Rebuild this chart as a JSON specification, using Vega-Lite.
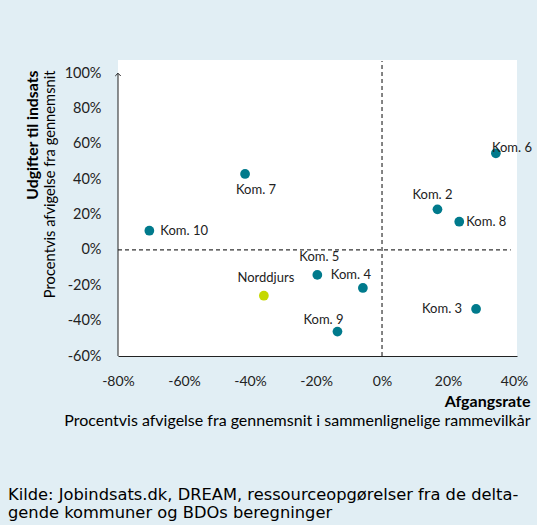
{
  "$schema": "https://vega.github.io/schema/vega-lite/v6.json",
  "width": 399,
  "height": 296,
  "autosize": {"type": "none"},
  "padding": {"left": 118, "top": 60, "right": 20, "bottom": 169},
  "background": "#e1eef4",
  "config": {
    "view": {"fill": "white", "stroke": null},
    "text": {"font": "Lato", "fontSize": 13, "color": "#222"},
    "axis": {"labelFont": "Lato", "labelFontSize": 14, "labelColor": "#222", "titleFont": "Lato", "titleColor": "#000", "grid": false, "ticks": false, "tickSize": 0, "labelOverlap": false, "labelFlush": false, "labelBound": false}
  },
  "title": {
    "text": ["Kilde: Jobindsats.dk, DREAM, ressourceopgørelser fra de delta-", "gende kommuner og BDOs beregninger"],
    "orient": "bottom",
    "anchor": "start",
    "frame": "group",
    "font": "DejaVu Sans",
    "fontSize": 16.3,
    "fontWeight": "normal",
    "color": "#000",
    "lineHeight": 18,
    "offset": 59,
    "dx": -110
  },
  "datasets": {
    "punkter": [
      {"kommune": "Kom. 7", "afgang": -0.415, "udgift": 0.43},
      {"kommune": "Kom. 10", "afgang": -0.705, "udgift": 0.109},
      {"kommune": "Kom. 5", "afgang": -0.196, "udgift": -0.141},
      {"kommune": "Kom. 4", "afgang": -0.058, "udgift": -0.215},
      {"kommune": "Norddjurs", "afgang": -0.358, "udgift": -0.259},
      {"kommune": "Kom. 9", "afgang": -0.135, "udgift": -0.462},
      {"kommune": "Kom. 6", "afgang": 0.345, "udgift": 0.547},
      {"kommune": "Kom. 2", "afgang": 0.168, "udgift": 0.23},
      {"kommune": "Kom. 8", "afgang": 0.234, "udgift": 0.16},
      {"kommune": "Kom. 3", "afgang": 0.285, "udgift": -0.334}
    ],
    "tom": [{}]
  },
  "resolve": {"axis": {"x": "independent", "y": "independent"}},
  "layer": [
    {
      "data": {"name": "tom"},
      "mark": {"type": "rule", "strokeDash": [4, 3], "color": "#333", "strokeWidth": 1.2},
      "encoding": {
        "y": {"datum": 0, "type": "quantitative", "axis": null},
        "x": {"datum": -0.8, "type": "quantitative", "axis": null},
        "x2": {"datum": 0.39}
      }
    },
    {
      "data": {"name": "tom"},
      "mark": {"type": "rule", "strokeDash": [4, 3], "color": "#333", "strokeWidth": 1.2},
      "encoding": {
        "x": {"datum": 0, "type": "quantitative", "axis": null},
        "y": {"datum": -0.6, "type": "quantitative", "axis": null},
        "y2": {"datum": 1.07}
      }
    },
    {
      "data": {"name": "tom"},
      "mark": {"type": "rule", "color": "#222", "strokeWidth": 1},
      "encoding": {
        "x": {"datum": -0.8, "type": "quantitative", "axis": {"orient": "bottom", "labels": false, "domain": false, "title": "Procentvis afvigelse fra gennemsnit i sammenlignelige rammevilkår", "titleFontSize": 16, "titleFontWeight": "normal", "titleX": 412, "titleY": 64, "titleAlign": "right", "titleBaseline": "middle", "titleAngle": 0}},
        "y": {"datum": -0.6, "type": "quantitative", "axis": {"orient": "left", "labels": false, "domain": false, "title": "Procentvis afvigelse fra gennemsnit", "titleFontSize": 14.7, "titleFontWeight": "normal", "titleX": -68, "titleY": 10, "titleAlign": "right", "titleBaseline": "middle", "titleAngle": -90}},
        "y2": {"datum": 1.0}
      }
    },
    {
      "data": {"name": "tom"},
      "mark": {"type": "point", "shape": "M-1,1L0,0L1,1", "filled": false, "size": 30, "color": "#222", "strokeWidth": 1, "opacity": 1},
      "encoding": {
        "x": {"datum": -0.8, "type": "quantitative", "axis": null},
        "y": {"datum": 1.0, "type": "quantitative", "axis": null}
      }
    },
    {
      "data": {"name": "punkter"},
      "mark": {"type": "circle", "size": 95, "opacity": 1},
      "encoding": {
        "x": {"field": "afgang", "type": "quantitative", "scale": {"domain": [-0.8, 0.409], "nice": false, "zero": false},
          "axis": {"orient": "bottom", "values": [-0.8, -0.6, -0.4, -0.2, 0, 0.2, 0.4], "format": ".0%", "labelExpr": "replace(datum.label, '−', '-')", "labelPadding": 18, "labelBaseline": "top", "domain": true, "domainColor": "#222", "domainWidth": 1, "title": "Afgangsrate", "titleFontSize": 16, "titleFontWeight": "bold", "titleX": 412, "titleY": 45, "titleAlign": "right", "titleBaseline": "middle", "titleAngle": 0}},
        "y": {"field": "udgift", "type": "quantitative", "scale": {"domain": [-0.6, 1.075], "nice": false, "zero": false},
          "axis": {"orient": "left", "values": [-0.6, -0.4, -0.2, 0, 0.2, 0.4, 0.6, 0.8, 1.0], "format": ".0%", "labelExpr": "replace(datum.label, '−', '-')", "labelPadding": 17, "labelFontSize": 14.5, "domain": false, "title": "Udgifter til indsats", "titleFontSize": 15.8, "titleFontWeight": "bold", "titleX": -86, "titleY": 10, "titleAlign": "right", "titleBaseline": "middle", "titleAngle": -90}},
        "color": {"condition": {"test": "datum.kommune === 'Norddjurs'", "value": "#c5d800"}, "value": "#007a8c"}
      }
    },
    {
      "data": {"name": "punkter"},
      "transform": [{"filter": {"field": "kommune", "equal": "Kom. 10"}}],
      "mark": {"type": "text", "align": "left", "baseline": "middle", "dx": 11},
      "encoding": {"x": {"field": "afgang", "type": "quantitative", "axis": null}, "y": {"field": "udgift", "type": "quantitative", "axis": null}, "text": {"field": "kommune"}}
    },
    {
      "data": {"name": "punkter"},
      "transform": [{"filter": {"field": "kommune", "equal": "Kom. 8"}}],
      "mark": {"type": "text", "align": "left", "baseline": "middle", "dx": 7},
      "encoding": {"x": {"field": "afgang", "type": "quantitative", "axis": null}, "y": {"field": "udgift", "type": "quantitative", "axis": null}, "text": {"field": "kommune"}}
    },
    {
      "data": {"name": "punkter"},
      "transform": [{"filter": {"field": "kommune", "equal": "Kom. 6"}}],
      "mark": {"type": "text", "align": "left", "baseline": "middle", "dx": -4, "dy": -5},
      "encoding": {"x": {"field": "afgang", "type": "quantitative", "axis": null}, "y": {"field": "udgift", "type": "quantitative", "axis": null}, "text": {"field": "kommune"}}
    },
    {
      "data": {"name": "punkter"},
      "transform": [{"filter": {"field": "kommune", "equal": "Kom. 7"}}],
      "mark": {"type": "text", "align": "center", "baseline": "middle", "dx": 11, "dy": 16},
      "encoding": {"x": {"field": "afgang", "type": "quantitative", "axis": null}, "y": {"field": "udgift", "type": "quantitative", "axis": null}, "text": {"field": "kommune"}}
    },
    {
      "data": {"name": "punkter"},
      "transform": [{"filter": {"field": "kommune", "oneOf": ["Kom. 5", "Norddjurs"]}}],
      "mark": {"type": "text", "align": "center", "baseline": "middle", "dx": 2, "dy": -18},
      "encoding": {"x": {"field": "afgang", "type": "quantitative", "axis": null}, "y": {"field": "udgift", "type": "quantitative", "axis": null}, "text": {"field": "kommune"}}
    },
    {
      "data": {"name": "punkter"},
      "transform": [{"filter": {"field": "kommune", "equal": "Kom. 2"}}],
      "mark": {"type": "text", "align": "center", "baseline": "middle", "dx": -5, "dy": -14},
      "encoding": {"x": {"field": "afgang", "type": "quantitative", "axis": null}, "y": {"field": "udgift", "type": "quantitative", "axis": null}, "text": {"field": "kommune"}}
    },
    {
      "data": {"name": "punkter"},
      "transform": [{"filter": {"field": "kommune", "equal": "Kom. 4"}}],
      "mark": {"type": "text", "align": "center", "baseline": "middle", "dx": -12, "dy": -13},
      "encoding": {"x": {"field": "afgang", "type": "quantitative", "axis": null}, "y": {"field": "udgift", "type": "quantitative", "axis": null}, "text": {"field": "kommune"}}
    },
    {
      "data": {"name": "punkter"},
      "transform": [{"filter": {"field": "kommune", "equal": "Kom. 9"}}],
      "mark": {"type": "text", "align": "center", "baseline": "middle", "dx": -14, "dy": -12},
      "encoding": {"x": {"field": "afgang", "type": "quantitative", "axis": null}, "y": {"field": "udgift", "type": "quantitative", "axis": null}, "text": {"field": "kommune"}}
    },
    {
      "data": {"name": "punkter"},
      "transform": [{"filter": {"field": "kommune", "equal": "Kom. 3"}}],
      "mark": {"type": "text", "align": "right", "baseline": "middle", "dx": -14},
      "encoding": {"x": {"field": "afgang", "type": "quantitative", "axis": null}, "y": {"field": "udgift", "type": "quantitative", "axis": null}, "text": {"field": "kommune"}}
    }
  ]
}
